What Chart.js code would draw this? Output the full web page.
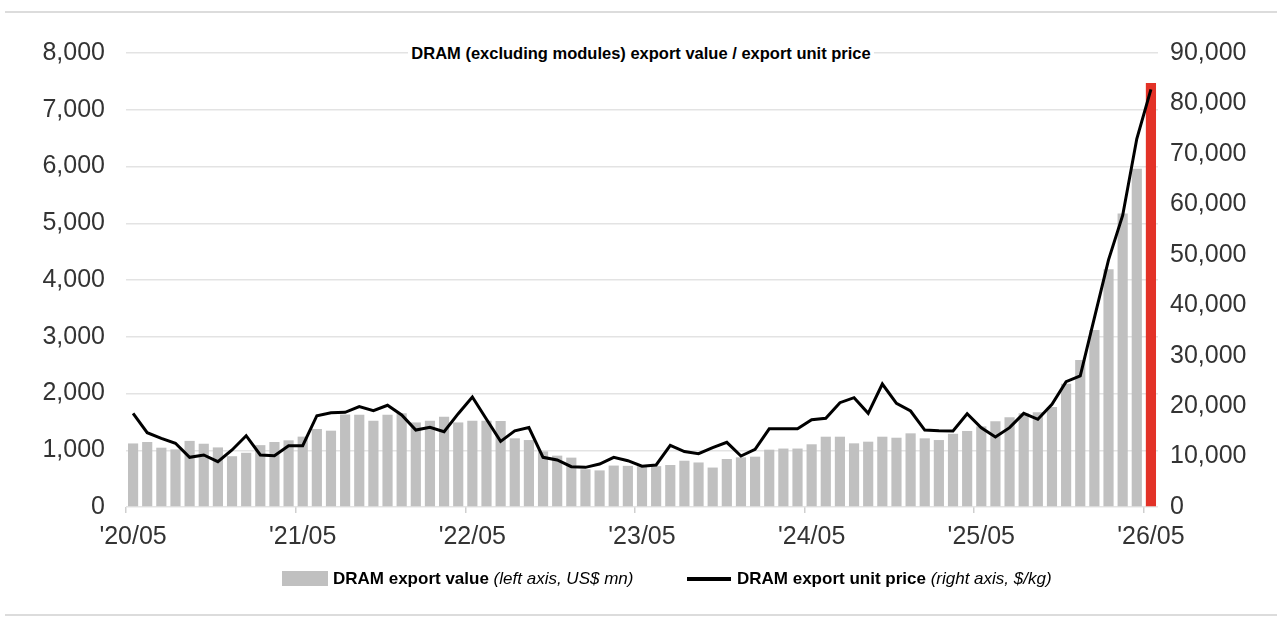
<!DOCTYPE html>
<html><head><meta charset="utf-8">
<script src="https://cdn.jsdelivr.net/npm/chart.js@4.4.1/dist/chart.umd.min.js"></script>
<style>
html,body{margin:0;padding:0;background:#fff;}
#wrap{position:relative;width:1282px;height:622px;overflow:hidden;font-family:"Liberation Sans",Arial,Helvetica,sans-serif;}
#c{position:absolute;left:0;top:0;}
.rule{position:absolute;left:5px;width:1272px;height:2px;background:#dcdcdc;}
#title{position:absolute;top:43px;left:0;width:1282px;text-align:center;font-size:16.5px;line-height:20px;font-weight:bold;color:#000;}
#title span{background:#fff;padding:0 3px;}
.leg{position:absolute;top:568px;font-size:17px;line-height:21px;color:#000;white-space:nowrap;}
.leg b{font-weight:bold;}
.leg i{font-style:italic;font-weight:normal;}
.box{position:absolute;left:282px;top:571px;width:46px;height:15px;background:#c0c0c0;}
.ln{position:absolute;left:687px;top:577px;width:44px;height:4px;background:#000;}
</style></head>
<body>
<div id="wrap">
<canvas id="c" width="1282" height="622"></canvas>
<div class="rule" style="top:11px"></div>
<div class="rule" style="top:614px"></div>
<div id="title"><span>DRAM (excluding modules) export value / export unit price</span></div>
<div class="box"></div>
<div class="leg" style="left:333px"><b>DRAM export value</b> <i>(left axis, US$ mn)</i></div>
<div class="ln"></div>
<div class="leg" style="left:737px"><b>DRAM export unit price</b> <i>(right axis, $/kg)</i></div>
</div>
<script>
const categories = [
"'20/05","'20/06","'20/07","'20/08","'20/09","'20/10","'20/11","'20/12","'21/01","'21/02","'21/03","'21/04",
"'21/05","'21/06","'21/07","'21/08","'21/09","'21/10","'21/11","'21/12","'22/01","'22/02","'22/03","'22/04",
"'22/05","'22/06","'22/07","'22/08","'22/09","'22/10","'22/11","'22/12","'23/01","'23/02","'23/03","'23/04",
"'23/05","'23/06","'23/07","'23/08","'23/09","'23/10","'23/11","'23/12","'24/01","'24/02","'24/03","'24/04",
"'24/05","'24/06","'24/07","'24/08","'24/09","'24/10","'24/11","'24/12","'25/01","'25/02","'25/03","'25/04",
"'25/05","'25/06","'25/07","'25/08","'25/09","'25/10","'25/11","'25/12","'26/01","'26/02","'26/03","'26/04",
"'26/05"];
const exportValue = [
1120,1145,1045,1015,1165,1115,1050,895,955,1090,1145,1175,
1240,1375,1345,1630,1625,1520,1625,1650,1490,1520,1590,1490,
1520,1520,1515,1210,1180,980,905,870,665,645,730,725,
720,720,740,816,785,695,846,875,887,1010,1030,1030,
1105,1239,1239,1122,1151,1239,1221,1298,1210,1180,1290,1340,
1420,1510,1580,1650,1670,1760,2170,2590,3120,4190,5170,5960,
7470];
const unitPrice = [
18575,14730,13620,12630,9850,10310,8980,11300,14130,10310,10170,12150,
12150,18100,18700,18770,19890,19100,20160,18240,15260,15800,14930,18500,
21800,17400,13000,15100,15760,9850,9320,7990,7860,8520,9850,9180,
8100,8330,12200,11000,10570,11760,12820,10110,11440,15500,15500,15500,
17300,17580,20680,21670,18570,24380,20550,19030,15260,15130,15070,18500,
15700,13880,15730,18570,17380,20360,24850,25980,37500,49000,57800,73000,
82800];
const leftTicks = [0,1000,2000,3000,4000,5000,6000,7000,8000];
const rightTicks = [0,10000,20000,30000,40000,50000,60000,70000,80000,90000];

const GRAY = '#c0c0c0', RED = '#e33227';
const barColors = exportValue.map((v,i)=> i === exportValue.length-1 ? RED : GRAY);
const FONT = "'Liberation Sans', Arial, Helvetica, sans-serif";
const TICKFONT = {family:FONT, size:25};

new Chart(document.getElementById('c'), {
  data: {
    labels: categories,
    datasets: [
      { type:'line', data: unitPrice, yAxisID:'y1', borderColor:'#000', borderWidth:3,
        pointRadius:0, tension:0, order:0, fill:false },
      { type:'bar', data: exportValue, yAxisID:'y', backgroundColor: barColors,
        barPercentage:0.72, categoryPercentage:1, order:1 }
    ]
  },
  options: {
    responsive:false, animation:false,
    layout:{ padding:{ top:53, left:0, right:0, bottom:0 } },
    plugins:{ legend:{display:false}, tooltip:{enabled:false}, title:{display:false} },
    scales:{
      x:{
        offset:true,
        border:{display:false},
        grid:{ offset:true, drawOnChartArea:false, drawTicks:true, tickLength:6, lineWidth:1.5,
               color: ctx => (ctx.index % 12 === 0 ? '#cfcfcf' : 'rgba(0,0,0,0)') },
        ticks:{ autoSkip:false, maxRotation:0, minRotation:0, padding:9, color:'#333',
                font:TICKFONT,
                callback:(v,i)=> categories[i].endsWith('/05') ? categories[i] : '' },
        afterFit: s => { s.height = 115; }
      },
      y:{
        position:'left', min:0, max:8000,
        afterBuildTicks: s => { s.ticks = leftTicks.map(v=>({value:v})); },
        border:{display:false},
        grid:{ color:'#e3e3e3', lineWidth:1.5, drawTicks:false },
        ticks:{ padding:21, color:'#333', font:TICKFONT,
                callback: v => v.toLocaleString('en-US') },
        afterFit: s => { s.width = 126; }
      },
      y1:{
        position:'right', min:0, max:90000,
        afterBuildTicks: s => { s.ticks = rightTicks.map(v=>({value:v})); },
        border:{display:false},
        grid:{ drawOnChartArea:false, drawTicks:false },
        ticks:{ padding:12, color:'#333', font:TICKFONT,
                callback: v => v.toLocaleString('en-US') },
        afterFit: s => { s.width = 124; }
      }
    }
  }
});
</script>
</body></html>
